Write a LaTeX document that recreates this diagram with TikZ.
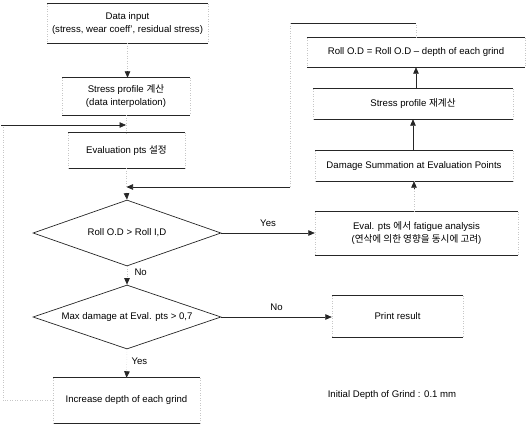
\documentclass[tikz,border=0pt]{standalone}
\usepackage{fontspec}
\setmainfont{Liberation Sans}
\newfontfamily\kr{Noto Sans CJK KR}
\usetikzlibrary{arrows.meta,shapes.geometric}
\tikzset{
  txt/.style={font=\fontsize{9.6}{13}\selectfont, align=center, text=black},
  bx/.style={txt, rectangle, inner sep=0pt},
  dia/.style={txt, diamond, draw=black!85, line width=0.7pt, inner sep=0pt, aspect=2.85},
  edge/.style={draw=black!85, line width=0.7pt},
  side/.style={draw=black!22, line width=0.5pt, dotted},
  faint/.style={draw=black!22, line width=0.5pt, dotted},
  tip/.style={-{Triangle[length=6.5pt,width=5.5pt]}},
}
\newcommand\mybx[1]{%
  \draw[edge] (#1.north west) -- (#1.north east);
  \draw[edge] (#1.south west) -- (#1.south east);
  \draw[side] (#1.north west) -- (#1.south west);
  \draw[side] (#1.north east) -- (#1.south east);}
\begin{document}
\begin{tikzpicture}[x=1pt,y=-1pt]
\useasboundingbox (0,0) rectangle (530,434);
% left column
\node[bx, minimum width=161pt, minimum height=39pt] (data) at (127.5,23.5) {Data input\\(stress, wear coeff', residual stress)};
\node[bx, minimum width=128pt, minimum height=37pt] (stress) at (126,96.5) {Stress profile {\kr 계산}\\(data interpolation)};
\node[bx, minimum width=117pt, minimum height=35pt] (evalpts) at (126.5,150.5) {Evaluation pts {\kr 설정}};
\node[dia, minimum width=188pt, minimum height=66pt] (d1) at (127,233) {Roll O.D > Roll I,D};
\node[dia, minimum width=188pt, minimum height=64pt] (d2) at (127,317) {Max damage at Eval. pts > 0,7};
\node[bx, minimum width=147pt, minimum height=45pt] (incr) at (126.5,400.5) {Increase depth of each grind};
% right column
\node[bx, minimum width=218pt, minimum height=29pt] (roll) at (416,52.5) {Roll O.D = Roll O.D -- depth of each grind};
\node[bx, minimum width=200pt, minimum height=30pt] (restress) at (413,104) {Stress profile {\kr 재계산}};
\node[bx, minimum width=198pt, minimum height=30pt] (damage) at (414,166) {Damage Summation at Evaluation Points};
\node[bx, minimum width=203pt, minimum height=43pt] (evalfat) at (416.5,233.5) {Eval. pts {\kr 에서} fatigue analysis\\({\kr 연삭에 의한 영향을 동시에 고려})};
\node[bx, minimum width=131pt, minimum height=41pt] (print) at (397.5,316.5) {Print result};
\node[txt] (note) at (392,395) {Initial Depth of Grind : 0.1 mm};
\foreach \b in {data,stress,evalpts,incr,roll,restress,damage,evalfat,print} {\mybx{\b}}
% join points
\coordinate (j1) at (stress.south |- 0,125);
\coordinate (j2) at (evalpts.south |- 0,187);
% left column connectors
\draw[faint] (data.south) -- (data.south |- stress.north);
\draw[tip, edge] (data.south |- 0,71) -- (data.south |- stress.north);
\draw[faint] (stress.south) -- (stress.south |- evalpts.north);
\draw[faint] (evalpts.south) -- (j2);
\draw[tip, edge] (j2 |- 0,193) -- (d1.north);
\draw[faint] (d1.south) -- (d2.north);
\draw[tip, edge] (d1.south |- 0,278) -- (d2.north);
\node[txt, anchor=west] (no1) at (131,272) {No};
\draw[faint] (d2.south) -- (incr.north);
\draw[tip, edge] (d2.south |- 0,371) -- (incr.north);
\node[txt, anchor=west] (yes2) at (128,361) {Yes};
% horizontal connectors
\draw[tip, edge] (d1.east) -- (evalfat.west |- d1.east) node[txt, midway, above=3pt] (yes1) {Yes};
\draw[tip, edge] (d2.east) -- (print.west |- d2.east) node[txt, midway, above=3pt] (no2) {No};
% right column connectors
\draw[faint] (evalfat.north -| damage.south) -- (damage.south);
\draw[tip, edge] (damage.south |- 0,189) -- (damage.south);
\draw[tip, edge] (restress.south |- damage.north) -- (restress.south);
\draw[tip, edge] (roll.south |- restress.north) -- (roll.south);
% right loop back
\coordinate (r1) at (roll.north |- 0,23);
\coordinate (r2) at (290,23);
\coordinate (r3) at (290,187);
\draw[faint] (roll.north) -- (r1);
\draw[edge] (r1) -- (r2);
\draw[faint] (r2) -- (r3);
\draw[tip, edge] (r3) -- (j2);
% left loop back
\coordinate (l1) at (3,400.5);
\coordinate (l2) at (1,125);
\draw[faint] (incr.west) -- (l1) -- (l1 |- l2);
\draw[tip, edge] (l2) -- (j1);
\end{tikzpicture}
\end{document}
